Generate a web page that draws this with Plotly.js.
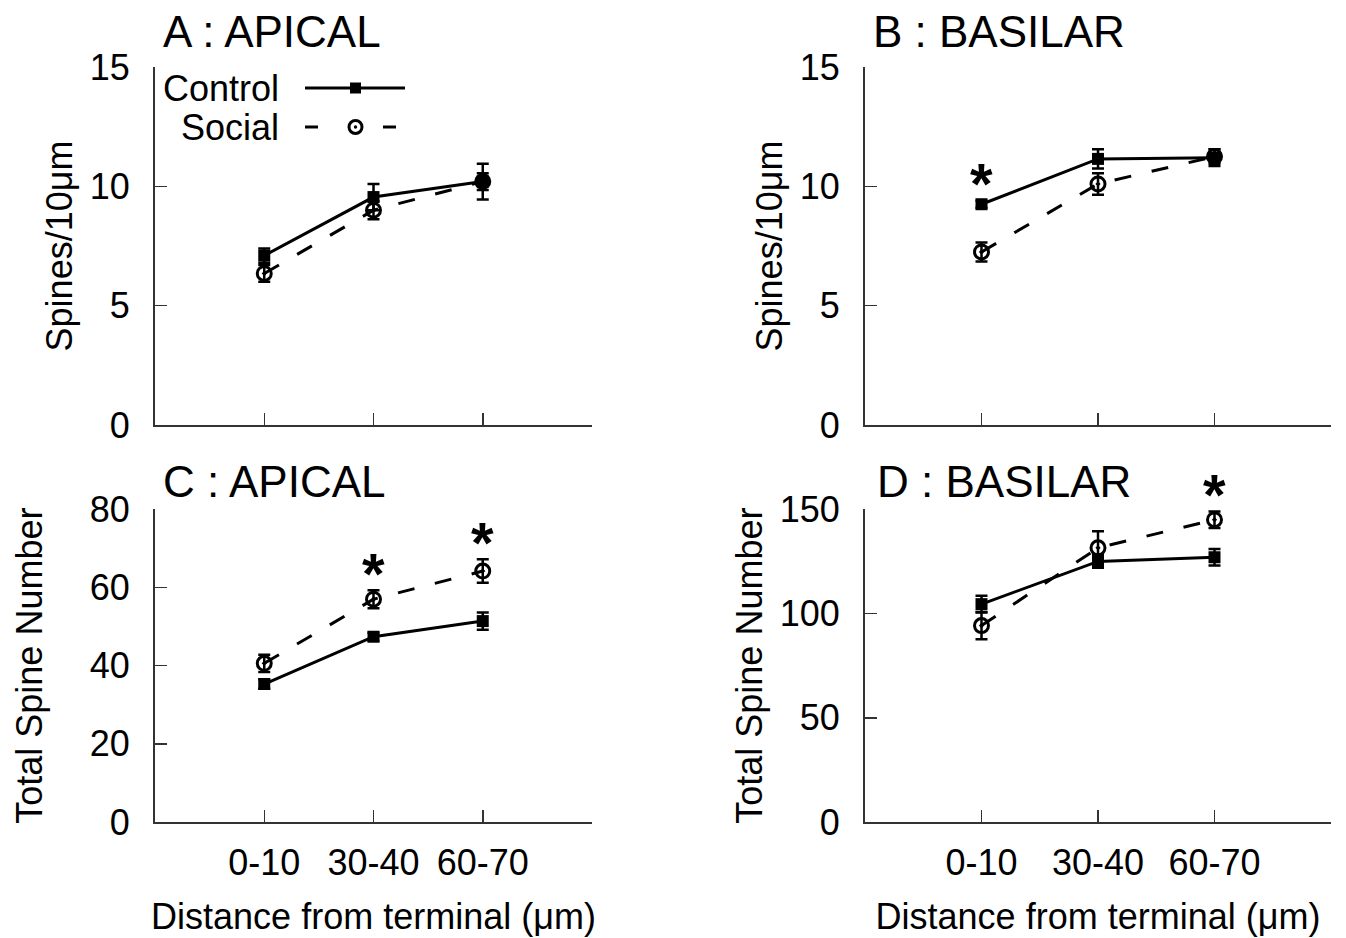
<!DOCTYPE html>
<html><head><meta charset="utf-8">
<script src="https://cdn.plot.ly/plotly-3.0.1.min.js"></script>
<style>html,body{margin:0;padding:0;background:#fff}</style>
</head><body><div id="chart" style="width:1346px;height:938px"></div>
<script>
// ---- data ----
const categories = ['0-10', '30-40', '60-70'];

const apicalDensityControl = [7.1, 9.55, 10.2];
const apicalDensityControlErr = [0.3, 0.55, 0.75];
const apicalDensitySocial = [6.35, 9.0, 10.2];
const apicalDensitySocialErr = [0.35, 0.38, 0.35];

const basilarDensityControl = [9.25, 11.15, 11.2];
const basilarDensityControlErr = [0.15, 0.4, 0.35];
const basilarDensitySocial = [7.25, 10.1, 11.25];
const basilarDensitySocialErr = [0.4, 0.45, 0.3];

const apicalTotalControl = [35.3, 47.4, 51.4];
const apicalTotalControlErr = [1.2, 1.0, 2.2];
const apicalTotalSocial = [40.6, 57.0, 64.2];
const apicalTotalSocialErr = [2.2, 2.3, 3.0];

const basilarTotalControl = [104.5, 125, 127];
const basilarTotalControlErr = [4, 3, 4];
const basilarTotalSocial = [94.2, 131.5, 145];
const basilarTotalSocialErr = [6.5, 8, 4];

// significance (asterisk) flags per category
const sigA = [false, false, false];
const sigB = [true, false, false];
const sigC = [false, true, true];
const sigD = [false, false, true];

const panelTitles = ['A : APICAL', 'B : BASILAR', 'C : APICAL', 'D : BASILAR'];
const yTicksDensity = [0, 5, 10, 15];
const yTicksTotalApical = [0, 20, 40, 60, 80];
const yTicksTotalBasilar = [0, 50, 100, 150];
const seriesNames = ['Control', 'Social'];
const densityTitle = 'Spines/10\u03bcm';
const totalTitle = 'Total Spine Number';
const xTitle = 'Distance from terminal (\u03bcm)';

// ---- build ----
const FONT = 'Liberation Sans, Arial, Helvetica, sans-serif';
const W = 1346, H = 938;
const px = v => v / W, py = v => 1 - v / H;

const panels = [
  {ctrl: apicalDensityControl, ce: apicalDensityControlErr, soc: apicalDensitySocial, se: apicalDensitySocialErr, sig: sigA, ticks: yTicksDensity, ytitle: densityTitle},
  {ctrl: basilarDensityControl, ce: basilarDensityControlErr, soc: basilarDensitySocial, se: basilarDensitySocialErr, sig: sigB, ticks: yTicksDensity, ytitle: densityTitle},
  {ctrl: apicalTotalControl, ce: apicalTotalControlErr, soc: apicalTotalSocial, se: apicalTotalSocialErr, sig: sigC, ticks: yTicksTotalApical, ytitle: totalTitle},
  {ctrl: basilarTotalControl, ce: basilarTotalControlErr, soc: basilarTotalSocial, se: basilarTotalSocialErr, sig: sigD, ticks: yTicksTotalBasilar, ytitle: totalTitle}
];

const xDomains = [[px(155), px(592)], [px(865), px(1331)], [px(155), px(592)], [px(865), px(1331)]];
const yDomains = [[py(425), py(67)], [py(425), py(67)], [py(822), py(509.3)], [py(822), py(509.3)]];
const titlePos = [[161, 31], [871, 31], [161, 481], [875, 482]];
const yStandoff = [6, 6, 36, 6];

const data = [];
const annotations = [];
const layout = {
  width: W, height: H,
  margin: {l: 0, r: 0, t: 0, b: 0},
  paper_bgcolor: '#fff', plot_bgcolor: '#fff',
  showlegend: false,
  font: {family: FONT, size: 36, color: '#000'},
  annotations: annotations,
  shapes: []
};

panels.forEach((p, i) => {
  const s = i === 0 ? '' : String(i + 1);
  const xa = 'x' + s, ya = 'y' + s;
  data.push({
    type: 'scatter', mode: 'lines+markers', name: seriesNames[1], x: categories, y: p.soc,
    xaxis: xa, yaxis: ya, cliponaxis: false,
    line: {color: '#000', width: 3, dash: '17px,21px'},
    marker: {symbol: 'circle-open-dot', size: 14, color: '#000', line: {width: 3, color: '#000'}},
    error_y: {type: 'data', array: p.se, visible: true, color: '#000', thickness: 2.5, width: 6}
  });
  data.push({
    type: 'scatter', mode: 'lines+markers', name: seriesNames[0], x: categories, y: p.ctrl,
    xaxis: xa, yaxis: ya, cliponaxis: false,
    line: {color: '#000', width: 3},
    marker: {symbol: 'square', size: 12, color: '#000'},
    error_y: {type: 'data', array: p.ce, visible: true, color: '#000', thickness: 2.5, width: 6}
  });
  const bottom = i >= 2;
  layout['xaxis' + s] = {
    domain: xDomains[i], anchor: ya, type: 'category', range: [-1, 3],
    showgrid: false, zeroline: false, showline: true, linecolor: '#333', linewidth: 2,
    ticks: 'inside', ticklen: 12, tickwidth: 1.5, tickcolor: '#333',
    showticklabels: bottom, ticklabelstandoff: 8,
    tickfont: {family: FONT, size: 36, color: '#000'},
    title: bottom ? {text: xTitle, font: {family: FONT, size: 36, color: '#000'}, standoff: 22} : {text: ''},
    fixedrange: true
  };
  const top = p.ticks[p.ticks.length - 1];
  layout['yaxis' + s] = {
    domain: yDomains[i], anchor: xa, range: [0, top],
    tickvals: p.ticks, showgrid: false, zeroline: false, showline: true, linecolor: '#333', linewidth: 2,
    ticks: 'inside', ticklen: 12, tickwidth: 1.5, tickcolor: '#333',
    ticklabelstandoff: 16,
    tickfont: {family: FONT, size: 36, color: '#000'},
    title: {text: p.ytitle, font: {family: FONT, size: 36, color: '#000'}, standoff: yStandoff[i]},
    fixedrange: true
  };
  annotations.push({
    xref: 'paper', yref: 'paper', x: px(titlePos[i][0]), y: py(titlePos[i][1]),
    xanchor: 'left', yanchor: 'middle', showarrow: false,
    text: panelTitles[i], font: {family: FONT, size: 44, color: '#000'}
  });
  p.sig.forEach((flag, k) => {
    if (!flag) return;
    const topVal = Math.max(p.ctrl[k] + p.ce[k], p.soc[k] + p.se[k]);
    annotations.push({
      xref: xa, yref: ya, x: categories[k], y: topVal,
      xanchor: 'center', yanchor: 'middle', yshift: 17, showarrow: false,
      text: '<b>*</b>', font: {family: FONT, size: 58, color: '#000'}
    });
  });
});

// custom legend (text on the left of the line sample), inside panel A
annotations.push({xref: 'paper', yref: 'paper', x: px(281), y: py(88), xanchor: 'right', yanchor: 'middle',
  showarrow: false, text: seriesNames[0], font: {family: FONT, size: 36, color: '#000'}});
annotations.push({xref: 'paper', yref: 'paper', x: px(281), y: py(127), xanchor: 'right', yanchor: 'middle',
  showarrow: false, text: seriesNames[1], font: {family: FONT, size: 36, color: '#000'}});
layout.shapes.push(
  {type: 'line', xref: 'paper', yref: 'paper', x0: px(305), x1: px(405), y0: py(88), y1: py(88), line: {color: '#000', width: 3}},
  {type: 'rect', xref: 'paper', yref: 'paper', x0: px(350), x1: px(361), y0: py(82.5), y1: py(93.5), fillcolor: '#000', line: {width: 0}},
  {type: 'line', xref: 'paper', yref: 'paper', x0: px(305), x1: px(318), y0: py(127), y1: py(127), line: {color: '#000', width: 3}},
  {type: 'line', xref: 'paper', yref: 'paper', x0: px(383), x1: px(396), y0: py(127), y1: py(127), line: {color: '#000', width: 3}},
  {type: 'circle', xref: 'paper', yref: 'paper', x0: px(349), x1: px(362), y0: py(120.5), y1: py(133.5), fillcolor: 'rgba(0,0,0,0)', line: {color: '#000', width: 3}},
  {type: 'circle', xref: 'paper', yref: 'paper', x0: px(353.8), x1: px(357.2), y0: py(125.3), y1: py(128.7), fillcolor: '#000', line: {width: 0}}
);

Plotly.newPlot('chart', data, layout, {displayModeBar: false, staticPlot: true});
</script>
</body></html>
